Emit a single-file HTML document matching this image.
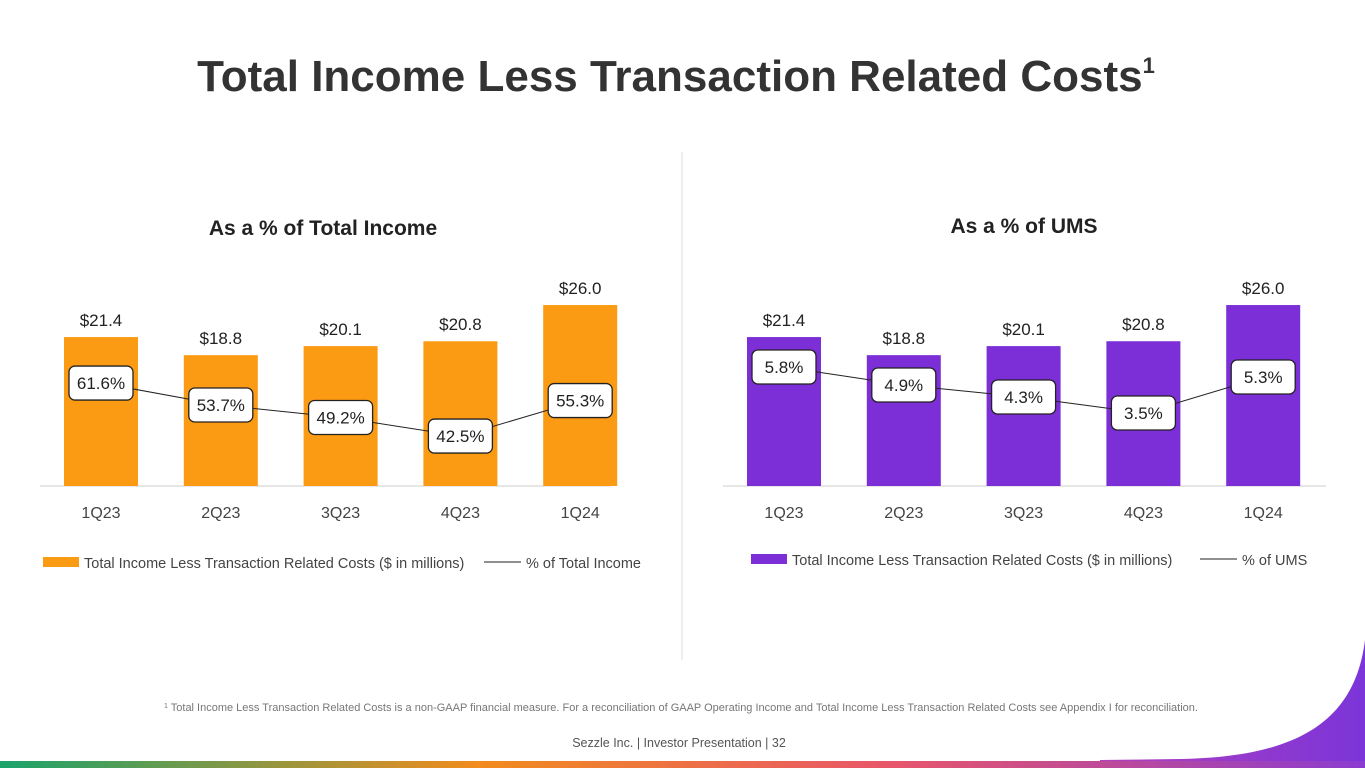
<!DOCTYPE html>
<html><head><meta charset="utf-8"><style>
body{margin:0;width:1365px;height:768px;overflow:hidden;background:#fff;font-family:"Liberation Sans",sans-serif;position:relative}
</style></head><body>
<svg width="1365" height="768" style="position:absolute;left:0;top:0">
<defs>
<linearGradient id="bg" x1="0" x2="1"><stop offset="0" stop-color="#1aa36b"/><stop offset="0.35" stop-color="#f28c1d"/><stop offset="0.65" stop-color="#e8566a"/><stop offset="1" stop-color="#8a3cd0"/></linearGradient>
<linearGradient id="pg" x1="0" x2="1"><stop offset="0" stop-color="#b23fc0"/><stop offset="1" stop-color="#7b35d8"/></linearGradient>
</defs>
<path d="M1100 768 L1365 768 L1365 640 C1355 720 1300 757 1180 759 L1100 760 Z" fill="url(#pg)"/>
<rect x="0" y="761" width="1365" height="7" fill="url(#bg)"/>
<text x="676" y="91" text-anchor="middle" font-size="44" font-weight="bold" fill="#333">Total Income Less Transaction Related Costs<tspan font-size="22" dy="-18">1</tspan></text>
<line x1="682" y1="152" x2="682" y2="660" stroke="#ddd"/>
<text x="323" y="235" text-anchor="middle" font-size="21" font-weight="bold" fill="#222">As a % of Total Income</text>
<text x="1024" y="233" text-anchor="middle" font-size="21" font-weight="bold" fill="#222">As a % of UMS</text>
<g id="charts"></g>
<text x="681" y="711" text-anchor="middle" font-size="11" fill="#777"><tspan font-size="7" dy="-3">1</tspan><tspan dy="3"> Total Income Less Transaction Related Costs is a non-GAAP financial measure. For a reconciliation of GAAP Operating Income and Total Income Less Transaction Related Costs see Appendix I for reconciliation.</tspan></text>
<text x="679" y="747" text-anchor="middle" font-size="12.5" fill="#555">Sezzle Inc. | Investor Presentation | 32</text>
</svg>
<script>
const categories=["1Q23","2Q23","3Q23","4Q23","1Q24"];
const barValues=[21.4,18.8,20.1,20.8,26.0];
const pctIncome=[61.6,53.7,49.2,42.5,55.3];
const pctUMS=[5.8,4.9,4.3,3.5,5.3];
const NS="http://www.w3.org/2000/svg";
const g=document.getElementById('charts');
function mk(t,a,txt){const e=document.createElementNS(NS,t);for(const k in a)e.setAttribute(k,a[k]);if(txt!==undefined)e.textContent=txt;g.appendChild(e);return e;}
function chart(x0,step,axisL,axisR,color,pct,lineY,legendY,legendX,legTxt,pctTxt,pfx){
  const base=486, by=v=>base-v*6.96;
  const bx=i=>x0+i*step;
  const ax=mk('line',{x1:axisL,y1:base,x2:axisR,y2:base,stroke:'#ddd','stroke-width':1.5});
  
  categories.forEach((c,i)=>{
    const r=mk('rect',{x:bx(i)-37,y:by(barValues[i]),width:74,height:base-by(barValues[i]),fill:color});
    
    const v=mk('text',{x:bx(i),y:by(barValues[i])-11,'text-anchor':'middle','font-size':17,fill:'#222'},'$'+barValues[i].toFixed(1));
    
    const t=mk('text',{x:bx(i),y:518,'text-anchor':'middle','font-size':16,fill:'#444'},c);
    
  });
  const pts=pct.map((p,i)=>bx(i)+','+lineY(p)).join(' ');
  const pl=mk('polyline',{points:pts,fill:'none',stroke:'#222','stroke-width':1});
  
  pct.forEach((p,i)=>{
    const y=lineY(p);
    const r=mk('rect',{x:bx(i)-32,y:y-17,width:64,height:34,rx:6,fill:'#fff',stroke:'#222','stroke-width':1.3});
    
    const t=mk('text',{x:bx(i),y:y+6,'text-anchor':'middle','font-size':17,fill:'#222'},p.toFixed(1)+'%');
    
  });
  const lr=mk('rect',{x:legendX,y:legendY-5,width:36,height:10,fill:color});
  
  const lt=mk('text',{x:legendX+41,y:legendY+6,'font-size':14.5,fill:'#444'},legTxt);
  
  const lineX=legendX+(pfx==='left'?441:449);
  const ll=mk('line',{x1:lineX,y1:legendY,x2:lineX+37,y2:legendY,stroke:'#222'});
  
  const l2=mk('text',{x:lineX+42,y:legendY+6,'font-size':14.5,fill:'#444'},pctTxt);
  
}
chart(101,119.8,40,610,'#fb9a13',pctIncome,p=>554-2.775*p,562,43,'Total Income Less Transaction Related Costs ($ in millions)','% of Total Income','left');
chart(784,119.8,723,1326,'#7c2fd6',pctUMS,p=>483-20*p,559,751,'Total Income Less Transaction Related Costs ($ in millions)','% of UMS','right');
</script>
</body></html>
